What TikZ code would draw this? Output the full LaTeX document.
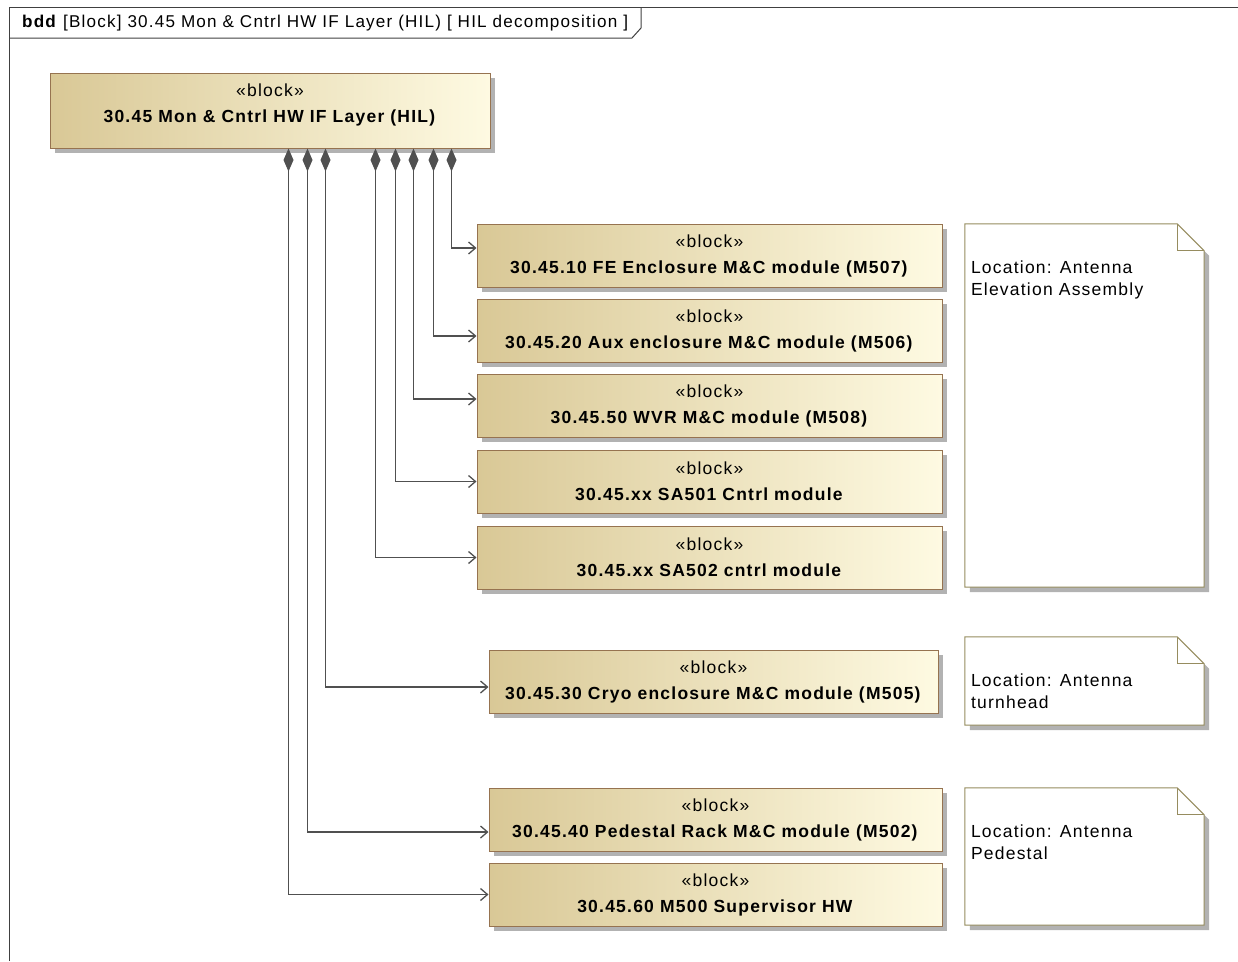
\documentclass[tikz,border=0pt]{standalone}
\usepackage{fontspec}
\setmainfont{Liberation Sans}[LetterSpace=7]
\usetikzlibrary{arrows.meta,shadows,positioning}

\definecolor{blocktan}{RGB}{217,200,150}
\definecolor{blockcream}{RGB}{254,250,226}
\definecolor{blockline}{RGB}{150,115,80}
\definecolor{noteline}{RGB}{150,140,95}
\definecolor{wire}{RGB}{80,80,80}

\begin{document}
\begin{tikzpicture}[x=1pt,y=-1pt,
    block/.style={rectangle, draw=blockline, line width=1pt, left color=blocktan, right color=blockcream, minimum height=63pt, inner sep=0pt, align=center, font=\fontsize{17.5}{26}\selectfont, drop shadow={shadow xshift=5pt,shadow yshift=-5pt,fill=black!30,opacity=1}},
    note/.style={rectangle, minimum width=239pt, inner sep=0pt},
    notebox/.style={draw=noteline, line width=1pt, fill=white, drop shadow={shadow xshift=5pt,shadow yshift=-5pt,fill=black!30,opacity=1}},
    notetext/.style={anchor=north west, inner sep=0pt, align=left, font=\fontsize{17.5}{22}\selectfont},
    frame/.style={draw=black!75, line width=1pt},
    part/.style={{Diamond[length=23pt,width=10pt]}-{Straight Barb[length=7pt,width=12pt]}, draw=wire, line width=1.3pt}]

\useasboundingbox (0,0) rectangle (1238,961);

% Frame
\draw[frame] (9,961) -- (9,7) -- (1250,7);
\draw[frame] (9,38) -- (632,38) -- (641,28) -- (641,7);
\node[anchor=west, inner sep=0pt, font=\fontsize{17.1}{20}\selectfont] (title) at (22,23) {\textbf{bdd} [Block] 30.45 Mon \& Cntrl HW IF Layer (HIL) [ HIL decomposition ]};

% Blocks
\node[block, minimum width=440pt, minimum height=75pt] (hil) at (270,110.5) {«block»\\\textbf{30.45 Mon \& Cntrl HW IF Layer (HIL)}\\[-12pt]\mbox{}};
\node[block, minimum width=465pt] (fe) at (709.5,255.5) {«block»\\\textbf{30.45.10 FE Enclosure M\&C module (M507)}};
\node[block, minimum width=465pt] (aux) at (709.5,330.5) {«block»\\\textbf{30.45.20 Aux enclosure M\&C module (M506)}};
\node[block, minimum width=465pt] (wvr) at (709.5,405.5) {«block»\\\textbf{30.45.50 WVR M\&C module (M508)}};
\node[block, minimum width=465pt] (sa501) at (709.5,481.5) {«block»\\\textbf{30.45.xx SA501 Cntrl module}};
\node[block, minimum width=465pt] (sa502) at (709.5,557.5) {«block»\\\textbf{30.45.xx SA502 cntrl module}};
\node[block, minimum width=449pt] (cryo) at (713.5,681.5) {«block»\\\textbf{30.45.30 Cryo enclosure M\&C module (M505)}};
\node[block, minimum width=453pt] (pedestal) at (715.5,819.5) {«block»\\\textbf{30.45.40 Pedestal Rack M\&C module (M502)}};
\node[block, minimum width=453pt] (m500) at (715.5,894.5) {«block»\\\textbf{30.45.60 M500 Supervisor HW}};

% Connections
\draw[part] ([xshift=402pt]hil.south west) |- ([yshift=7.5pt]fe.west);
\draw[part] ([xshift=384pt]hil.south west) |- ([yshift=-5.5pt]aux.west);
\draw[part] ([xshift=364pt]hil.south west) |- ([yshift=6.5pt]wvr.west);
\draw[part] ([xshift=346pt]hil.south west) |- (sa501.west);
\draw[part] ([xshift=326pt]hil.south west) |- (sa502.west);
\draw[part] ([xshift=276pt]hil.south west) |- ([yshift=-5.5pt]cryo.west);
\draw[part] ([xshift=258pt]hil.south west) |- ([yshift=-12.5pt]pedestal.west);
\draw[part] ([xshift=239pt]hil.south west) |- (m500.west);

% Notes
\node[note, minimum height=363pt] (note1) at (1084.5,405.5) {};
\node[note, minimum height=88pt] (note2) at (1084.5,681) {};
\node[note, minimum height=137pt] (note3) at (1084.5,856.5) {};
\foreach \n/\txt in {note1/{Location: Antenna\\Elevation Assembly},
                     note2/{Location: Antenna\\turnhead},
                     note3/{Location: Antenna\\Pedestal}} {
  \filldraw[notebox] (\n.south west) -- (\n.north west) -- ([xshift=-27pt]\n.north east) -- ([yshift=-27pt]\n.north east) -- (\n.south east) -- cycle;
  \draw[noteline, line width=1pt] ([xshift=-27pt]\n.north east) |- ([yshift=-27pt]\n.north east);
  \node[notetext] (\n txt) at ([xshift=6pt,yshift=-37pt]\n.north west) {\txt};
}
\end{tikzpicture}
\end{document}
